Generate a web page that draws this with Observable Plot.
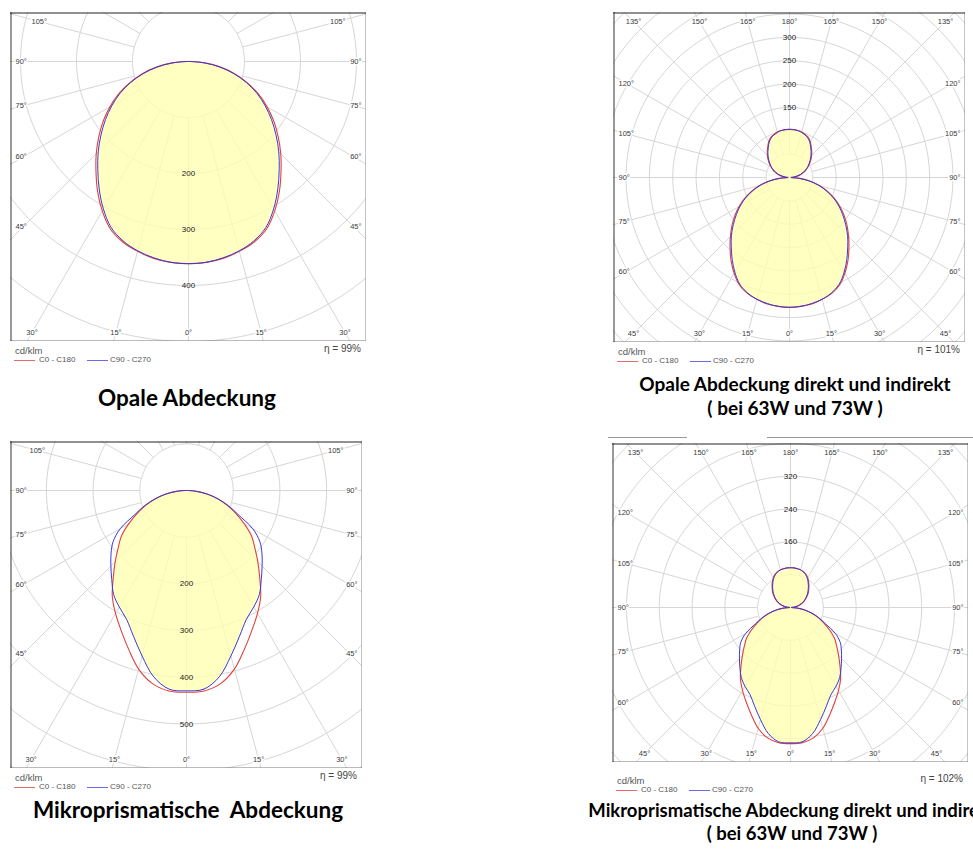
<!DOCTYPE html>
<html><head><meta charset="utf-8">
<script src="https://cdn.jsdelivr.net/npm/d3@7"></script>
<script src="https://cdn.jsdelivr.net/npm/@observablehq/plot@0.6"></script>
<style>
html,body{margin:0;padding:0;background:#fff}
body{width:973px;height:856px;overflow:hidden;position:relative;font-family:"Liberation Sans",Arial,sans-serif}
.panel{position:absolute}
.lg{position:absolute;font-size:9px;line-height:10px;color:#555;white-space:nowrap}
.sw{position:absolute;height:1px}
.title{position:absolute;font-family:Lato,"Open Sans",sans-serif;font-weight:bold;color:#000;white-space:pre;line-height:1;transform:translate(-50%,-50%)}
.deco{position:absolute;height:1px;background:#999}
</style></head><body>
<script>
// ---------- data (cd/klm) ----------
const gammaDown = [0,5,10,15,20,25,30,35,40,45,50,55,60,65,70,75,80,85,90];
const gammaUp   = [90,95,100,105,110,115,120,125,130,135,140,145,150,155,160,165,170,175,180];

// Opale Abdeckung
const opalC0  = [361,360,357,351,343,330,308,283,257,233,209,186,162,138,112,86,58,29,4];
const opalC90 = [361,360,356,350,341,327,304,278,252,228,204,181,158,135,110,84,57,29,4];

// Opale Abdeckung direkt und indirekt
const opalDiC0Down  = [278,277,275,270,264,254,237,218,198,179,161,143,125,106,86,66,45,22,3];
const opalDiC90Down = [278,277,274,270,263,252,234,214,194,176,157,139,122,104,85,65,44,22,3];
const opalDiC0Up    = [1,8,17,25,32,39,46,53,60,67,74,81,89,95,98,101,102,103,103];
const opalDiC90Up   = [1,8,16,24,31,38,45,51,58,65,72,79,87,93,97,100,102,103,103];

// Mikroprismatische Abdeckung
const mikroC0  = [432,431,420,396,362,331,304,277,244,216,191,170,143,117,93,70,46,22,3];
const mikroC90 = [429,427,405,367,332,304,288,272,249,229,211,192,164,122,96,70,46,22,3];

// Mikroprismatische Abdeckung direkt und indirekt
const mikroDiC0Down  = [332,331,323,305,279,255,234,213,188,166,147,131,110,90,72,54,35,17,2];
const mikroDiC90Down = [330,329,312,283,256,234,222,209,192,176,162,148,126,94,74,54,35,17,2];
const mikroDiC0Up    = [1,8,16,23,30,37,43,50,57,63,70,77,84,89,93,95,96,97,97];
const mikroDiC90Up   = [1,7,15,22,29,36,42,48,55,61,68,75,82,88,92,95,96,97,97];

// rings and tick labels
const ringsOpal = [100,200,300,400,500,600];
const ringLabelsOpal = [200,300,400];
const ringsOpalDi = [50,100,150,200,250,300,350,400,450,500,550];
const ringLabelsOpalDi = [150,200,250,300];
const ringsMikro = [100,200,300,400,500,600,700];
const ringLabelsMikro = [200,300,400,500];
const ringsMikroDi = [80,160,240,320,400,480,560,640];
const ringLabelsMikroDi = [160,240,320];
const anglesHalf = [-105,-90,-75,-60,-45,-30,-15,0,15,30,45,60,75,90,105];
const anglesFull = [-165,-150,-135,-120,-105,-90,-75,-60,-45,-30,-15,0,15,30,45,60,75,90,105,120,135,150,165,180];

const legendC0 = "C0 - C180";
const legendC90 = "C90 - C270";
const unitLabel = "cd/klm";
const titles = [
  ["Opale Abdeckung"],
  ["Opale Abdeckung direkt und indirekt", "( bei 63W und 73W )"],
  ["Mikroprismatische  Abdeckung"],
  ["Mikroprismatische Abdeckung direkt und indirekt", "( bei 63W und 73W )"]
];
const etas = ["\u03b7 = 99%", "\u03b7 = 101%", "\u03b7 = 99%", "\u03b7 = 102%"];

// ---------- styles ----------
const RED = "#e0403c", BLUE = "#3a3ad6", GRID = "#d6d6d6";
const rad = d => d * Math.PI / 180;

function lobe(gs, vs) {
  const full = gs[gs.length - 1] >= 180;
  const pts = [];
  gs.forEach((g, i) => pts.push({x: vs[i] * Math.sin(rad(g)), y: -vs[i] * Math.cos(rad(g))}));
  const end = full ? gs.length - 2 : gs.length - 1;
  for (let i = end; i >= 1; i--) pts.push({x: -vs[i] * Math.sin(rad(gs[i])), y: -vs[i] * Math.cos(rad(gs[i]))});
  return pts;
}

function makePanel(cfg) {
  const {left, top, W, H, cx, cy, k, rings, ringLabels, ringUp, angles, gs, c0, c90, hx = 13, hy = 9} = cfg;
  const xDom = [-cx / k, (W - cx) / k];
  const yDom = [-(H - cy) / k, cy / k];
  const ringPts = rings.flatMap(r => d3.range(0, 361, 2).map(a => ({r, x: r * Math.cos(rad(a)), y: r * Math.sin(rad(a))})));
  const rMax = 3000;
  const spokes = d3.range(0, 360, 15).map(a => ({
    x1: rings[0] * Math.sin(rad(a)), y1: -rings[0] * Math.cos(rad(a)),
    x2: rMax * Math.sin(rad(a)), y2: -rMax * Math.cos(rad(a))
  }));
  const fillVals = c0.map((v, i) => Math.min(v, c90[i]));
  const lab = angles.map(a => {
    const dx = Math.sin(rad(a)), dy = Math.cos(rad(a));
    const L = -(cx - hx), R = W - cx - hx, T = -(cy - hy), B = H - cy - hy;
    let best = Infinity, side = null;
    if (dx > 1e-9) { const t = R / dx; if (t < best) { best = t; side = "right"; } }
    if (dx < -1e-9) { const t = L / dx; if (t < best) { best = t; side = "left"; } }
    if (dy > 1e-9) { const t = B / dy; if (t < best) { best = t; side = "bottom"; } }
    if (dy < -1e-9) { const t = T / dy; if (t < best) { best = t; side = "top"; } }
    let px = best * dx, py = best * dy;
    if (side === "left") px = -(cx - 5);
    if (side === "right") px = W - cx - 5;
    if (side === "bottom") py = H - cy - hy;
    if (side === "top") py = -(cy - hy);
    return {x: px / k, y: -py / k, side, text: Math.abs(a) + "\u00b0"};
  });
  const common = {fontSize: 7.5, fill: "#3a3a3a", stroke: "white", strokeWidth: 3};
  const plot = Plot.plot({
    width: W, height: H, margin: 0,
    x: {domain: xDom, range: [0, W], axis: null},
    y: {domain: yDom, range: [H, 0], axis: null},
    style: {fontFamily: "'Liberation Sans', Arial, sans-serif", background: "white", overflow: "hidden"},
    marks: [
      Plot.line(ringPts, {x: "x", y: "y", z: "r", stroke: GRID, strokeWidth: 1, clip: true}),
      Plot.link(spokes, {x1: "x1", y1: "y1", x2: "x2", y2: "y2", stroke: GRID, strokeWidth: 1, clip: true}),
      Plot.line(lobe(gs, fillVals), {x: "x", y: "y", fill: "#ffffb0", fillOpacity: 0.78, stroke: "none", curve: "catmull-rom-closed"}),
      Plot.line(lobe(gs, c0), {x: "x", y: "y", stroke: RED, strokeWidth: 1.1, curve: "catmull-rom-closed"}),
      Plot.line(lobe(gs, c90), {x: "x", y: "y", stroke: BLUE, strokeWidth: 1, curve: "catmull-rom-closed"}),
      Plot.text(ringLabels, {x: 0, y: d => ringUp ? d : -d, text: d => String(d), fontSize: 8, fill: "#222"}),
      Plot.text(lab.filter(d => d.side === "left"), {x: "x", y: "y", text: "text", textAnchor: "start", ...common}),
      Plot.text(lab.filter(d => d.side === "right"), {x: "x", y: "y", text: "text", textAnchor: "end", ...common}),
      Plot.text(lab.filter(d => d.side === "top" || d.side === "bottom"), {x: "x", y: "y", text: "text", textAnchor: "middle", ...common}),
      Plot.ruleY([yDom[0]], {stroke: "#777", strokeWidth: 1, dy: -0.5}),
      Plot.ruleX([xDom[1]], {stroke: "#888", strokeWidth: 1, dx: -0.5}),
      Plot.ruleY([yDom[1]], {stroke: "#222", strokeWidth: 1, dy: 0.5}),
      Plot.ruleX([xDom[0]], {stroke: "#333", strokeWidth: 1, dx: 0.5})
    ]
  });
  const div = document.createElement("div");
  div.className = "panel";
  div.style.left = left + "px"; div.style.top = top + "px"; div.style.width = W + "px"; div.style.height = H + "px";
  div.appendChild(plot);
  document.body.appendChild(div);

  const fb = top + H, ld = cfg.legendDy;
  const add = (cls, css, text) => {
    const e = document.createElement("div"); e.className = cls;
    Object.assign(e.style, css); if (text) e.textContent = text; document.body.appendChild(e); return e;
  };
  add("lg", {left: (left + 5) + "px", top: (fb + ld - 5) + "px", fontSize: "9.5px"}, unitLabel);
  add("sw", {left: (left + 4) + "px", width: "21px", top: Math.round(fb + ld + 9) + "px", background: "#e86a6a"});
  add("lg", {left: (left + 29) + "px", top: (fb + ld + 4) + "px", fontSize: "8px"}, legendC0);
  add("sw", {left: (left + 77) + "px", width: "21px", top: Math.round(fb + ld + 9) + "px", background: "#6a6ae8"});
  add("lg", {left: (left + 100) + "px", top: (fb + ld + 4) + "px", fontSize: "8px"}, legendC90);
  add("lg", {left: (left + W - 5) + "px", top: (fb + ld - 7) + "px", transform: "translateX(-100%)", fontSize: "10px", color: "#444"}, cfg.eta);
}

makePanel({left: 10, top: 12, W: 356, H: 329, cx: 178, cy: 49, k: 0.56,
  rings: ringsOpal, ringLabels: ringLabelsOpal, ringUp: false, angles: anglesHalf,
  gs: gammaDown, c0: opalC0, c90: opalC90, legendDy: 10, eta: etas[0]});

makePanel({left: 613, top: 12, W: 352, H: 330, cx: 176, cy: 165, k: 0.467,
  rings: ringsOpalDi, ringLabels: ringLabelsOpalDi, ringUp: true, angles: anglesFull,
  gs: gammaDown.concat(gammaUp.slice(1)),
  c0: opalDiC0Down.concat(opalDiC0Up.slice(1)), c90: opalDiC90Down.concat(opalDiC90Up.slice(1)),
  legendDy: 10, eta: etas[1]});

makePanel({left: 10, top: 441, W: 352, H: 327, cx: 176, cy: 49, k: 0.467,
  rings: ringsMikro, ringLabels: ringLabelsMikro, ringUp: false, angles: anglesHalf,
  gs: gammaDown, c0: mikroC0, c90: mikroC90, legendDy: 10, eta: etas[2]});

makePanel({left: 612, top: 443, W: 356, H: 319, cx: 178, cy: 164, k: 0.41,
  rings: ringsMikroDi, ringLabels: ringLabelsMikroDi, ringUp: true, angles: anglesFull,
  gs: gammaDown.concat(gammaUp.slice(1)),
  c0: mikroDiC0Down.concat(mikroDiC0Up.slice(1)), c90: mikroDiC90Down.concat(mikroDiC90Up.slice(1)),
  legendDy: 19, eta: etas[3]});

function title(lines, cx, ys, size) {
  lines.forEach((t, i) => {
    const e = document.createElement("div");
    e.className = "title";
    e.style.left = cx + "px"; e.style.top = ys[i] + "px"; e.style.fontSize = size + "px";
    e.textContent = t;
    document.body.appendChild(e);
  });
}
title(titles[0], 187, [398], 22.5);
title(titles[1], 795, [383, 407], 19);
title(titles[2], 188, [810], 22.5);
title(titles[3], 792, [810, 833], 18.5);

[[608, 687], [767, 973]].forEach(([a, b]) => {
  const e = document.createElement("div"); e.className = "deco";
  e.style.left = a + "px"; e.style.width = (b - a) + "px"; e.style.top = "437px";
  document.body.appendChild(e);
});
</script>
</body></html>
